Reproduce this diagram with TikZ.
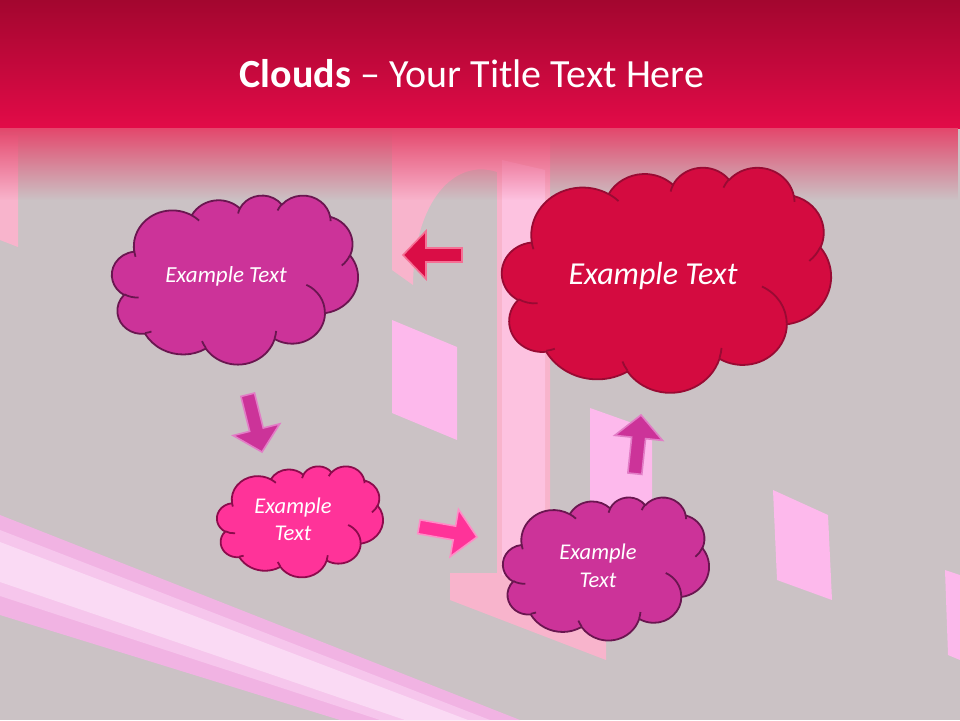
\documentclass[tikz,border=0pt]{standalone}
\usepackage{fontspec}
\setmainfont{Carlito}
\usetikzlibrary{fadings}
\definecolor{bg}{HTML}{CBC2C5}
\definecolor{hdtop}{HTML}{A3062F}
\definecolor{hdbot}{HTML}{E20B48}
\definecolor{fadecol}{HTML}{E4476C}
\definecolor{decopink}{HTML}{F8B4CC}
\definecolor{decolight}{HTML}{FDC2E0}
\definecolor{winpink}{HTML}{FDB9EC}
\definecolor{bandout}{HTML}{F1B3E3}
\definecolor{bandmid}{HTML}{F6C6EC}
\definecolor{bandin}{HTML}{FADAF4}
\definecolor{magfill}{HTML}{CC3399}
\definecolor{magline}{HTML}{6A1650}
\definecolor{redfill}{HTML}{D40B40}
\definecolor{redline}{HTML}{990A33}
\definecolor{pinkfill}{HTML}{FF3399}
\definecolor{pinkline}{HTML}{8C0B4C}
\definecolor{arrred}{HTML}{DA0D46}
\definecolor{arrredl}{HTML}{F57095}
\definecolor{arrmagl}{HTML}{E27CC6}
\definecolor{arrpinkl}{HTML}{FF8CC6}

% OOXML cloud: convert visual angles to parametric angles
\newcommand\defarc[5]{%
  \pgfmathsetmacro\tmpS{atan2((#2)*sin(#4),(#3)*cos(#4))}%
  \pgfmathsetmacro\tmpE{atan2((#2)*sin(#4+#5),(#3)*cos(#4+#5))}%
  \pgfmathsetmacro\tmpD{mod(\tmpE-\tmpS+720,360)}%
  \expandafter\let\csname cS#1\endcsname\tmpS
  \expandafter\let\csname cD#1\endcsname\tmpD}
\newcommand\carc[3]{arc[start angle=\csname cS#1\endcsname, delta angle=\csname cD#1\endcsname, x radius=#2, y radius=#3]}

\defarc{ma}{15.632}{21.273}{-190.4875}{123.7805}
\defarc{mb}{12.345}{16.822}{-144.1024}{89.9452}
\defarc{mc}{10.104}{13.762}{-145.8079}{99.7230}
\defarc{md}{11.243}{15.266}{-130.9861}{117.2417}
\defarc{me}{12.345}{16.836}{-78.7089}{109.0269}
\defarc{mf}{15.683}{21.343}{-46.2673}{130.2690}
\defarc{mg}{13.391}{18.211}{0.6250}{114.0333}
\defarc{mh}{15.630}{21.331}{22.4516}{115.1726}
\defarc{mi}{17.870}{24.405}{66.2426}{75.7110}
\defarc{mj}{10.093}{13.699}{-274.9421}{146.7356}
\defarc{mk}{10.058}{13.762}{-246.8285}{152.5189}
\defarc{ia}{10.058}{13.762}{86.7420}{26.4295}
\defarc{ib}{10.093}{13.699}{73.6105}{11.4475}
\defarc{ic}{15.630}{21.331}{137.6242}{14.0811}
\defarc{id}{15.630}{21.331}{6.4533}{15.9984}
\defarc{ie}{13.391}{18.211}{-70.2924}{70.9174}
\defarc{if}{12.345}{16.836}{30.3180}{27.7515}
\defarc{ig}{11.243}{15.266}{-13.7443}{14.8589}
\defarc{ih}{11.243}{15.266}{-149.1815}{18.1954}
\defarc{ii}{10.104}{13.762}{-163.4943}{17.6864}
\defarc{ij}{15.632}{21.273}{-66.7070}{12.3194}
\defarc{ik}{15.632}{21.273}{157.6544}{11.8582}

\newcommand\cloudshape[5]{%
  \pgfmathsetmacro\cwx{#4/100}\pgfmathsetmacro\chy{#5/100}%
  \begin{scope}[shift={(#2,#3)}, x=\cwx pt, y=-\chy pt]
    \path[#1, cloudbody] (9.0278,33.2639) \carc{ma}{15.632}{21.273} \carc{mb}{12.345}{16.822}
      \carc{mc}{10.104}{13.762} \carc{md}{11.243}{15.266} \carc{me}{12.345}{16.836}
      \carc{mf}{15.683}{21.343} \carc{mg}{13.391}{18.211} \carc{mh}{15.630}{21.331}
      \carc{mi}{17.870}{24.405} \carc{mj}{10.093}{13.699} \carc{mk}{10.058}{13.762} -- cycle;
    \draw[#1, cloudbody, fill=none]
      (10.863,60.595) \carc{ia}{10.058}{13.762}
      (16.037,80.785) \carc{ib}{10.093}{13.699}
      (38.144,90.486) \carc{ic}{15.630}{21.331}
      (66.729,80.442) \carc{id}{15.630}{21.331}
      (79.002,53.134) \carc{ie}{13.391}{18.211}
      (96.755,35.542) \carc{if}{12.345}{16.836}
      (88.713,12.560) \carc{ig}{11.243}{15.266}
      (67.310,9.148) \carc{ih}{11.243}{15.266}
      (51.252,10.926) \carc{ii}{10.104}{13.762}
      (32.407,12.019) \carc{ij}{15.632}{21.273}
      (9.553,36.549) \carc{ik}{15.632}{21.273};
  \end{scope}}

\newcommand\blockarrow[4]{%
  \draw[#1, shift={(#2,#3)}, rotate=#4]
    (0,0) -- (-23,-24) -- (-23,-7) -- (-59,-7) -- (-59,7) -- (-23,7) -- (-23,24) -- cycle;}

\tikzset{
  cloudbody/.style={line width=1.8pt, line join=round},
  magcloud/.style={fill=magfill, draw=magline},
  redcloud/.style={fill=redfill, draw=redline},
  pinkcloud/.style={fill=pinkfill, draw=pinkline},
  redarrow/.style={fill=arrred, draw=arrredl, line width=1.6pt, line join=miter},
  magarrow/.style={fill=magfill, draw=arrmagl, line width=1.6pt, line join=miter},
  pinkarrow/.style={fill=pinkfill, draw=arrpinkl, line width=1.6pt, line join=miter},
  ctext/.style={text=white, inner sep=0pt, align=center},
  windowbox/.style={fill=winpink},
}

\begin{document}
\begin{tikzpicture}[x=1pt, y=-1pt]
\useasboundingbox (0,0) rectangle (960,720);
% background
\fill[bg] (0,0) rectangle (960,720);
% decorations
\fill[bandout] (0,515) -- (520,720) -- (340,720) -- (0,615) -- cycle;
\fill[bandmid] (0,530) -- (490,720) -- (380,720) -- (0,596) -- cycle;
\fill[bandin] (0,542) -- (468,720) -- (405,720) -- (0,582) -- cycle;
\fill[decopink] (0,135) -- (18,135) -- (18,247) -- (0,240) -- cycle;
\fill[decopink] (392,128) -- (550,128) -- (550,590) -- (606,612) -- (606,660)
  -- (450,600) -- (450,573) -- (497,573) -- (497,172)
  .. controls (455,158) and (414,200) .. (413,285) -- (392,270) -- cycle;
\fill[decolight] (502,160) -- (545,170) -- (545,585) -- (502,575) -- cycle;
\fill[windowbox] (392,320) -- (457,347) -- (457,440) -- (392,413) -- cycle;
\fill[windowbox] (590,408) -- (652,430) -- (652,520) -- (590,500) -- cycle;
\fill[windowbox] (773,490) -- (828,515) -- (832,600) -- (777,580) -- cycle;
\fill[windowbox] (945,570) -- (960,575) -- (960,660) -- (948,655) -- cycle;
% header
\shade[top color=hdtop, bottom color=hdbot] (0,0) rectangle (960,128);
\fill[fadecol, path fading=south] (0,128) rectangle (960,200);
\node[anchor=base, text=white, font=\fontsize{40}{48}\selectfont] (title) at (472,87)
  {\textbf{Clouds} – Your Title Text Here};
% clouds
\cloudshape{magcloud}{112}{195}{246}{169}
\cloudshape{redcloud}{502}{167}{329}{225}
\cloudshape{pinkcloud}{217}{466}{166}{111}
\cloudshape{magcloud}{503}{497}{206}{143}
% texts
\node[ctext, anchor=base, font=\itshape\fontsize{23}{28}\selectfont] (t1) at (226,282) {Example Text};
\node[ctext, anchor=base, font=\itshape\fontsize{32}{38}\selectfont] (t2) at (653,284) {Example Text};
\node[ctext, font=\itshape\fontsize{22.5}{27}\selectfont] (t3) at (293,519) {Example\\Text};
\node[ctext, font=\itshape\fontsize{22.5}{28}\selectfont] (t4) at (598,566) {Example\\Text};
% arrows
\blockarrow{redarrow}{403}{255}{180}
\blockarrow{magarrow}{262}{452}{-76}
\blockarrow{pinkarrow}{477}{537}{-10}
\blockarrow{magarrow}{641}{415}{84}
\end{tikzpicture}
\end{document}
